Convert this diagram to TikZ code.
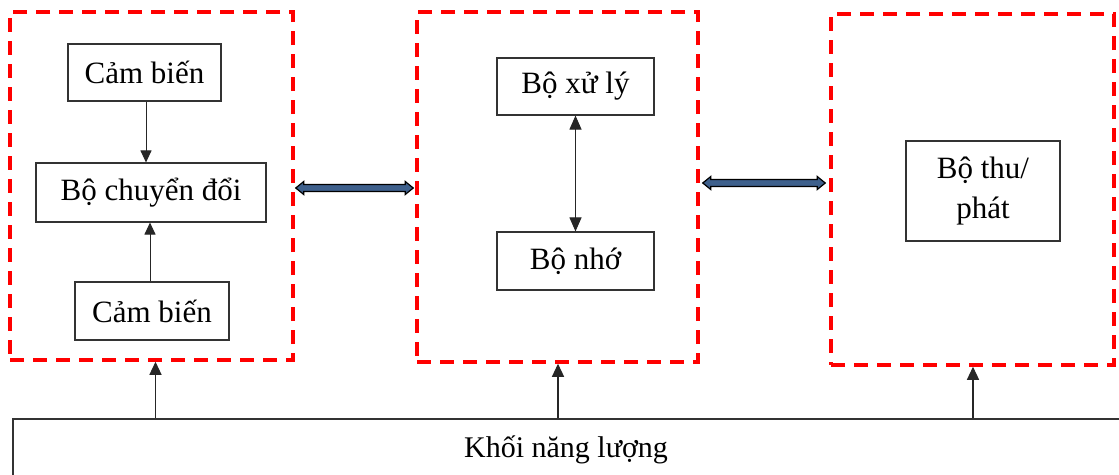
\documentclass[tikz,border=0pt]{standalone}
\usepackage{fontspec}
\setmainfont{Liberation Serif}
\usetikzlibrary{arrows.meta,calc}
\definecolor{arrowblue}{RGB}{62,96,140}
\definecolor{dashred}{RGB}{255,0,0}
\begin{document}
\begin{tikzpicture}[x=1pt,y=-1pt,
  redbox/.style={draw=dashred, line width=3.5pt, dash pattern=on 14pt off 9pt, minimum width=#1, inner sep=0pt},
  blk/.style={draw=black!80, line width=1.1pt, inner sep=0pt, font=\fontsize{31}{40}\selectfont, align=center},
  thin arrow/.style={draw=black!85, line width=1pt, -{Triangle[width=11pt,length=12pt]}},
  power arrow/.style={draw=black!85, line width=1.2pt, -{Triangle[width=12pt,length=13pt]}},
  blockarrow/.style={draw=black, line width=1.2pt, fill=arrowblue, line join=miter}]
\useasboundingbox (0,0) rectangle (1119,474);
\clip (0,0) rectangle (1119,474);
\fill[white] (0,0) rectangle (1119,474);
% group frames
\node[redbox=283pt, minimum height=348pt] (g1) at (151.5,186) {};
\node[redbox=281pt, minimum height=350pt] (g2) at (557.5,187) {};
\node[redbox=283pt, minimum height=351pt] (g3) at (972.5,189.5) {};
% blocks
\node[blk, minimum width=153pt, minimum height=57pt] (cb1) at (144.5,72.5) {Cảm biến};
\node[blk, minimum width=230pt, minimum height=59pt] (cvd) at (151,192.5) {Bộ chuyển đổi};
\node[blk, minimum width=154pt, minimum height=58pt] (cb2) at (152,311) {Cảm biến};
\node[blk, minimum width=157pt, minimum height=57pt] (xl) at (575.5,86.5) {Bộ xử lý};
\node[blk, minimum width=157pt, minimum height=58pt] (nho) at (575.5,261) {Bộ nhớ};
\node[blk, minimum width=154pt, minimum height=100pt] (tp) at (983,191) {Bộ thu/\\phát};
% energy block
\node[draw=black!80, line width=1.1pt, minimum width=1117pt, minimum height=61pt, inner sep=0pt] (energy) at (571.5,449.5) {};
\node[anchor=base, inner sep=0pt, font=\fontsize{30}{36}\selectfont] (energytext) at (566,457) {Khối năng lượng};
% inner arrows
\draw[thin arrow] ($(cb1.south)+(1.5,0)$) -- ($(cb1.south |- cvd.north)+(1.5,0)$);
\draw[thin arrow] ($(cb2.north)+(-2,0)$) -- ($(cb2.north |- cvd.south)+(-2,0)$);
\draw[thin arrow, {Triangle[width=12pt,length=14pt]}-{Triangle[width=12pt,length=14pt]}] (xl.south) -- (nho.north);
% power arrows
\draw[power arrow] ($(energy.north -| g1.south)+(4,0)$) -- ($(g1.south)+(4,0)$);
\draw[power arrow] ($(energy.north -| g2.south)+(0.5,0)$) -- ($(g2.south)+(0.5,0)$);
\draw[power arrow] ($(energy.north -| g3.south)+(0.5,0)$) -- ($(g3.south)+(0.5,0)$);
% block arrows between groups
\coordinate (a1) at ($(g1.east)+(1,2)$);
\coordinate (b1) at ($(g2.west |- a1)+(-2,0)$);
\coordinate (a2) at ($(g2.east)+(3,-4)$);
\coordinate (b2) at ($(g3.west |- a2)+(-4,0)$);
\foreach \a/\b in {a1/b1,a2/b2}{
  \draw[blockarrow] (\a) -- ++(8,-6.5) -- ++(0,3) -- ($(\b)+(-8,-3.5)$) -- ++(0,-3) -- (\b) -- ++(-8,6.5) -- ++(0,-3) -- ($(\a)+(8,3.5)$) -- ++(0,3) -- cycle;
}
\end{tikzpicture}
\end{document}
